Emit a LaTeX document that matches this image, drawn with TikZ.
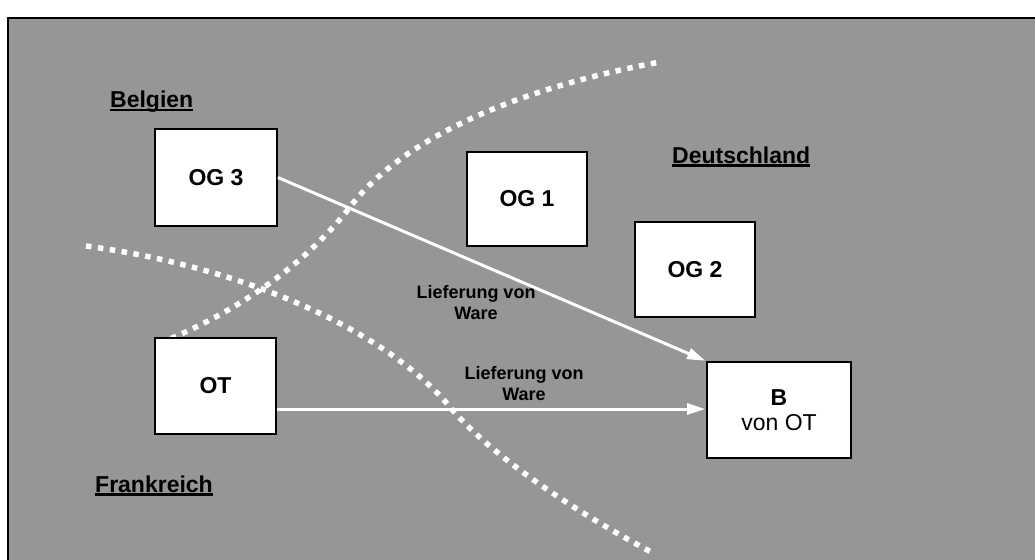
\documentclass[tikz,border=0pt]{standalone}
\usepackage{fontspec}
\setmainfont{Liberation Sans}
\usetikzlibrary{arrows.meta}
\newcommand\myul[1]{\setbox0\hbox{#1}\rlap{\rule[-3.5pt]{\wd0}{2.2pt}}\box0}
\definecolor{bggray}{RGB}{150,150,150}
\tikzset{
  box/.style={draw=black, line width=1.8pt, fill=white, inner sep=0pt, align=center, font=\fontsize{23}{27}\selectfont\bfseries},
  region/.style={font=\fontsize{23}{27}\selectfont\bfseries, inner sep=0pt, anchor=base west},
  flow/.style={draw=white, line width=3pt, -{Triangle[length=18pt,width=11pt,fill=white]}, shorten >=1pt},
  flowlabel/.style={font=\fontsize{18}{21}\selectfont\bfseries, align=center, inner sep=0pt},
  border/.style={draw=white, line width=5.5pt, dash pattern=on 5.5pt off 6.5pt}
}
\begin{document}
\begin{tikzpicture}[x=1pt,y=-1pt]
\useasboundingbox (0,0) rectangle (1035,559);
\fill[white] (0,0) rectangle (1035,559);
\draw[fill=bggray, draw=black, line width=2pt] (8,18) rectangle (1045,570);

% border lines
\draw[border] (160,343) .. controls (230,315) and (302,269) .. (350,207)
                        .. controls (410,129) and (540,84) .. (660,62);
\draw[border] (86,246) .. controls (250,268) and (388,333) .. (450,407)
                       .. controls (490,455) and (575,512) .. (655,554);

% boxes
\node[box, minimum width=122pt, minimum height=97pt] (og3) at (216,177.5) {OG 3};
\node[box, minimum width=120pt, minimum height=94pt] (og1) at (527,199) {OG 1};
\node[box, minimum width=120pt, minimum height=95pt] (og2) at (695,269.5) {OG 2};
\node[box, minimum width=121pt, minimum height=96pt] (ot) at (215.5,386) {OT};
\node[box, minimum width=144pt, minimum height=96pt] (b) at (779,410) {B\\[-2pt]\mdseries von OT};

% region labels
\node[region] (belgien) at (110,108) {\myul{Belgien}};
\node[region] (de) at (672,163) {\myul{Deutschland}};
\node[region] (fr) at (95,492) {\myul{Frankreich}};

% flows
\draw[flow] (og3.east) -- (b.north west);
\draw[flow] (ot.east |- 0,409) coordinate (otout) -- (b.west |- otout);
\node[flowlabel] (l1) at (476,303) {Lieferung von\\Ware};
\node[flowlabel] (l2) at (524,384) {Lieferung von\\Ware};
\end{tikzpicture}
\end{document}
